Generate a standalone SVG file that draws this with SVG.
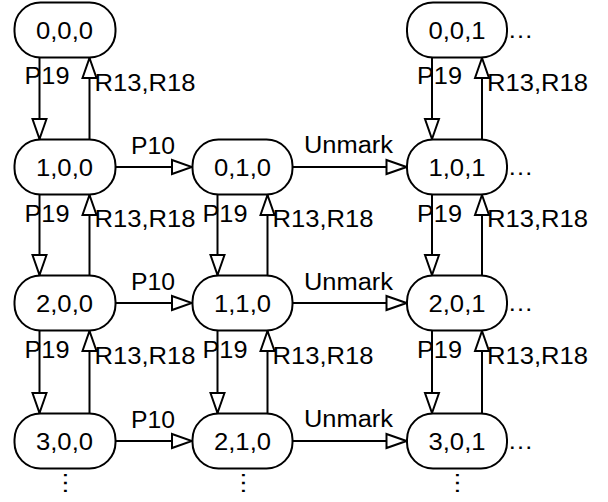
<svg xmlns="http://www.w3.org/2000/svg" width="608" height="502" viewBox="0 0 608 502">
<style>
.n rect{fill:#fff;stroke:#000;stroke-width:2}
text{font-family:"Liberation Sans",Arial,sans-serif;font-size:23px;fill:#000}
.c{text-anchor:middle}
#edges line{stroke:#000;stroke-width:2;marker-end:url(#ah)}
</style>
<defs>
<marker id="ah" markerUnits="userSpaceOnUse" markerWidth="24" markerHeight="18" refX="20.5" refY="8" orient="auto" viewBox="-2 -1 24 18">
<path d="M0,1 L20,8 L0,15 z" fill="#fff" stroke="#000" stroke-width="2"/>
</marker>
</defs>
<rect width="608" height="502" fill="#fff"/>
<g id="edges">
<line x1="39.5" y1="57.5" x2="39.5" y2="139.5"/>
<line x1="89.5" y1="139.5" x2="89.5" y2="57.5"/>
<line x1="39.5" y1="194.5" x2="39.5" y2="275.5"/>
<line x1="89.5" y1="275.5" x2="89.5" y2="194.5"/>
<line x1="39.5" y1="330.5" x2="39.5" y2="413.5"/>
<line x1="89.5" y1="413.5" x2="89.5" y2="330.5"/>
<line x1="217.5" y1="194.5" x2="217.5" y2="275.5"/>
<line x1="267.5" y1="275.5" x2="267.5" y2="194.5"/>
<line x1="217.5" y1="330.5" x2="217.5" y2="413.5"/>
<line x1="267.5" y1="413.5" x2="267.5" y2="330.5"/>
<line x1="432" y1="57.5" x2="432" y2="139.5"/>
<line x1="482" y1="139.5" x2="482" y2="57.5"/>
<line x1="432" y1="194.5" x2="432" y2="275.5"/>
<line x1="482" y1="275.5" x2="482" y2="194.5"/>
<line x1="432" y1="330.5" x2="432" y2="413.5"/>
<line x1="482" y1="413.5" x2="482" y2="330.5"/>
<line x1="114.5" y1="167" x2="192.5" y2="167"/>
<line x1="114.5" y1="303" x2="192.5" y2="303"/>
<line x1="114.5" y1="441" x2="192.5" y2="441"/>
<line x1="292.5" y1="167" x2="407" y2="167"/>
<line x1="292.5" y1="303" x2="407" y2="303"/>
<line x1="292.5" y1="441" x2="407" y2="441"/>
</g>
<g id="edge-labels">
<text x="24.5" y="84" textLength="45" lengthAdjust="spacingAndGlyphs">P19</text>
<text x="94.5" y="91" textLength="101" lengthAdjust="spacingAndGlyphs">R13,R18</text>
<text x="24.5" y="221.5" textLength="45" lengthAdjust="spacingAndGlyphs">P19</text>
<text x="94.5" y="227" textLength="101" lengthAdjust="spacingAndGlyphs">R13,R18</text>
<text x="24.5" y="358" textLength="45" lengthAdjust="spacingAndGlyphs">P19</text>
<text x="94.5" y="363.5" textLength="101" lengthAdjust="spacingAndGlyphs">R13,R18</text>
<text x="202.5" y="221.5" textLength="45" lengthAdjust="spacingAndGlyphs">P19</text>
<text x="272.5" y="227" textLength="101" lengthAdjust="spacingAndGlyphs">R13,R18</text>
<text x="202.5" y="358" textLength="45" lengthAdjust="spacingAndGlyphs">P19</text>
<text x="272.5" y="363.5" textLength="101" lengthAdjust="spacingAndGlyphs">R13,R18</text>
<text x="417" y="84" textLength="45" lengthAdjust="spacingAndGlyphs">P19</text>
<text x="487" y="91" textLength="101" lengthAdjust="spacingAndGlyphs">R13,R18</text>
<text x="417" y="221.5" textLength="45" lengthAdjust="spacingAndGlyphs">P19</text>
<text x="487" y="227" textLength="101" lengthAdjust="spacingAndGlyphs">R13,R18</text>
<text x="417" y="358" textLength="45" lengthAdjust="spacingAndGlyphs">P19</text>
<text x="487" y="363.5" textLength="101" lengthAdjust="spacingAndGlyphs">R13,R18</text>
<text x="131" y="154" textLength="44" lengthAdjust="spacingAndGlyphs">P10</text>
<text x="131" y="290" textLength="44" lengthAdjust="spacingAndGlyphs">P10</text>
<text x="131" y="428" textLength="44" lengthAdjust="spacingAndGlyphs">P10</text>
<text x="304" y="153" textLength="89" lengthAdjust="spacingAndGlyphs">Unmark</text>
<text x="304" y="289.5" textLength="89" lengthAdjust="spacingAndGlyphs">Unmark</text>
<text x="304" y="427" textLength="89" lengthAdjust="spacingAndGlyphs">Unmark</text>
</g>
<g id="n000" class="n"><rect x="14.5" y="2.5" width="101" height="55" rx="26" ry="26"/><text class="c" x="64.5" y="38.5" textLength="57" lengthAdjust="spacingAndGlyphs">0,0,0</text></g>
<g id="n100" class="n"><rect x="14.5" y="139.5" width="101" height="55" rx="26" ry="26"/><text class="c" x="64.5" y="175.5" textLength="57" lengthAdjust="spacingAndGlyphs">1,0,0</text></g>
<g id="n200" class="n"><rect x="14.5" y="275.5" width="101" height="55" rx="26" ry="26"/><text class="c" x="64.5" y="311.5" textLength="57" lengthAdjust="spacingAndGlyphs">2,0,0</text></g>
<g id="n300" class="n"><rect x="14.5" y="413.5" width="101" height="55" rx="26" ry="26"/><text class="c" x="64.5" y="449.5" textLength="57" lengthAdjust="spacingAndGlyphs">3,0,0</text></g>
<g id="n010" class="n"><rect x="192.5" y="139.5" width="100" height="55" rx="26" ry="26"/><text class="c" x="242.5" y="175.5" textLength="57" lengthAdjust="spacingAndGlyphs">0,1,0</text></g>
<g id="n110" class="n"><rect x="192.5" y="275.5" width="100" height="55" rx="26" ry="26"/><text class="c" x="242.5" y="311.5" textLength="57" lengthAdjust="spacingAndGlyphs">1,1,0</text></g>
<g id="n210" class="n"><rect x="192.5" y="413.5" width="100" height="55" rx="26" ry="26"/><text class="c" x="242.5" y="449.5" textLength="57" lengthAdjust="spacingAndGlyphs">2,1,0</text></g>
<g id="n001" class="n"><rect x="407" y="2.5" width="100" height="55" rx="26" ry="26"/><text class="c" x="457" y="38.5" textLength="57" lengthAdjust="spacingAndGlyphs">0,0,1</text></g>
<g id="n101" class="n"><rect x="407" y="139.5" width="100" height="55" rx="26" ry="26"/><text class="c" x="457" y="175.5" textLength="57" lengthAdjust="spacingAndGlyphs">1,0,1</text></g>
<g id="n201" class="n"><rect x="407" y="275.5" width="100" height="55" rx="26" ry="26"/><text class="c" x="457" y="311.5" textLength="57" lengthAdjust="spacingAndGlyphs">2,0,1</text></g>
<g id="n301" class="n"><rect x="407" y="413.5" width="100" height="55" rx="26" ry="26"/><text class="c" x="457" y="449.5" textLength="57" lengthAdjust="spacingAndGlyphs">3,0,1</text></g>
<g id="ellipses">
<text x="507.5" y="38" textLength="26" lengthAdjust="spacingAndGlyphs">…</text>
<text x="507.5" y="175" textLength="26" lengthAdjust="spacingAndGlyphs">…</text>
<text x="507.5" y="311" textLength="26" lengthAdjust="spacingAndGlyphs">…</text>
<text x="507.5" y="449" textLength="26" lengthAdjust="spacingAndGlyphs">…</text>
<text transform="translate(63.5,470.5) rotate(90)" style="font-size:25px">…</text>
<text transform="translate(241.5,470.5) rotate(90)" style="font-size:25px">…</text>
<text transform="translate(456,470.5) rotate(90)" style="font-size:25px">…</text>
</g>
</svg>
